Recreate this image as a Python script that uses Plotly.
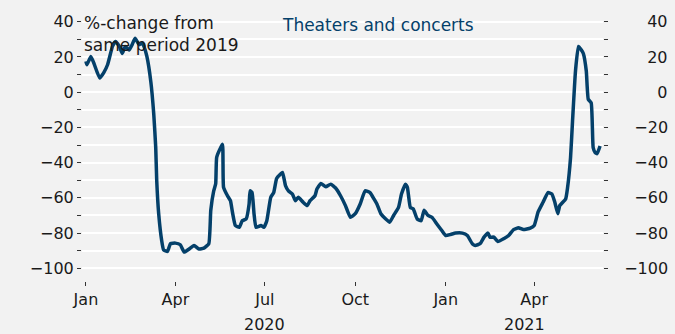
import plotly.graph_objects as go

dates = [
    "2020-01-01", "2020-01-02", "2020-01-06", "2020-01-09", "2020-01-15", "2020-01-19",
    "2020-01-23", "2020-01-28", "2020-01-31", "2020-02-04", "2020-02-07", "2020-02-10",
    "2020-02-14", "2020-02-17", "2020-02-20", "2020-02-24", "2020-02-27", "2020-02-29",
    "2020-03-03", "2020-03-07", "2020-03-10", "2020-03-12", "2020-03-13", "2020-03-15",
    "2020-03-18", "2020-03-20", "2020-03-24", "2020-03-27", "2020-04-01", "2020-04-06",
    "2020-04-10", "2020-04-15", "2020-04-20", "2020-04-25", "2020-04-30", "2020-05-05",
    "2020-05-07", "2020-05-10", "2020-05-12", "2020-05-13", "2020-05-17", "2020-05-19",
    "2020-05-20", "2020-05-24", "2020-05-27", "2020-05-29", "2020-06-01", "2020-06-05",
    "2020-06-08", "2020-06-12", "2020-06-15", "2020-06-16", "2020-06-18", "2020-06-20",
    "2020-06-22", "2020-06-27", "2020-06-30", "2020-07-03", "2020-07-07", "2020-07-10",
    "2020-07-13", "2020-07-17", "2020-07-19", "2020-07-22", "2020-07-25", "2020-07-29",
    "2020-08-01", "2020-08-04", "2020-08-09", "2020-08-13", "2020-08-16", "2020-08-21",
    "2020-08-23", "2020-08-27", "2020-09-01", "2020-09-06", "2020-09-11", "2020-09-16",
    "2020-09-21", "2020-09-26", "2020-10-01", "2020-10-06", "2020-10-11", "2020-10-16",
    "2020-10-20", "2020-10-23", "2020-10-27", "2020-11-01", "2020-11-05", "2020-11-09",
    "2020-11-14", "2020-11-17", "2020-11-21", "2020-11-23", "2020-11-26", "2020-11-29",
    "2020-12-03", "2020-12-07", "2020-12-10", "2020-12-14", "2020-12-18", "2020-12-23",
    "2020-12-28", "2021-01-01", "2021-01-06", "2021-01-11", "2021-01-18", "2021-01-23",
    "2021-01-28", "2021-01-31", "2021-02-05", "2021-02-09", "2021-02-13", "2021-02-15",
    "2021-02-19", "2021-02-23", "2021-03-01", "2021-03-06", "2021-03-11", "2021-03-16",
    "2021-03-21", "2021-03-28", "2021-04-01", "2021-04-05", "2021-04-10", "2021-04-15",
    "2021-04-19", "2021-04-22", "2021-04-25", "2021-04-27", "2021-05-03", "2021-05-05",
    "2021-05-08", "2021-05-10", "2021-05-13", "2021-05-16", "2021-05-19", "2021-05-21",
    "2021-05-24", "2021-05-26", "2021-05-29", "2021-05-31", "2021-06-02", "2021-06-04",
    "2021-06-07",
]
values = [
    17.5, 15.6, 20.3, 16.6, 8.0, 11.0,
    15.6, 26.0, 28.8, 26.0, 22.0, 26.0,
    24.0, 27.0, 30.7, 27.0, 28.0, 26.0,
    20.3, 6.0, -12.5, -31.5, -50.0, -69.0,
    -84.0, -89.5, -90.4, -86.0, -85.7, -86.6,
    -90.8, -89.0, -87.0, -89.0, -88.5, -86.0,
    -67.0, -56.0, -52.0, -37.0, -31.5, -29.6,
    -54.0, -58.8, -61.6, -68.0, -75.7, -76.7,
    -73.0, -72.0, -63.5, -56.0, -57.0, -69.0,
    -76.7, -75.7, -76.7, -73.0, -59.7, -57.0,
    -49.0, -46.5, -45.6, -53.0, -56.0, -57.8,
    -61.6, -59.7, -62.5, -64.4, -61.6, -58.8,
    -55.0, -51.8, -53.7, -52.2, -54.4, -58.8,
    -64.4, -71.0, -69.0, -63.5, -56.0, -57.0,
    -60.6, -63.5, -69.0, -72.0, -73.8, -70.0,
    -65.4, -57.8, -52.2, -54.0, -65.4, -66.3,
    -72.0, -73.0, -67.0, -70.0, -71.0, -74.8,
    -78.5, -81.4, -80.8, -80.0, -80.0, -81.4,
    -86.0, -87.0, -86.0, -82.3, -80.0, -82.3,
    -82.3, -84.8, -83.2, -81.4, -78.0, -77.0,
    -78.0, -77.2, -75.7, -68.0, -62.5, -57.0,
    -57.8, -62.5, -69.0, -64.4, -60.6, -54.0,
    -37.0, -16.4, 12.0, 26.0, 24.0, 22.0,
    12.0, -4.0, -6.0, -31.5, -34.3, -34.9,
    -30.5,
]

x_tickvals = ["2020-01-01", "2020-04-01", "2020-07-01", "2020-10-01", "2021-01-01", "2021-04-01"]
x_ticktext = ["Jan", "Apr", "Jul", "Oct", "Jan", "Apr"]
year_labels = ["2020", "2021"]
year_pos = ["2020-07-01", "2021-03-22"]

y_tickvals = list(range(-100, 41, 10))

MINUS = "\u2212"
FIG_SP = "\u2007"             # digit-width space
MINUS_SP = "\u2002\u2009\u200a"  # roughly the width of a minus sign


def left_label(v):
    if v % 20:
        return ""
    return str(v).replace("-", MINUS)


def right_label(v):
    if v % 20:
        return ""
    s = str(abs(v))
    pad = FIG_SP * (3 - len(s))
    if v >= 0:
        pad = MINUS_SP + pad
        return pad + s
    return pad + MINUS + s


y_ticktext = [left_label(v) for v in y_tickvals]
y2_ticktext = [right_label(v) for v in y_tickvals]

x_range = ["2019-12-28", "2021-06-10"]
y_range = [-107.2, 42.7]

LINE = "#04406a"
BG = "#f2f2f2"
TXT = "#1a1a1a"
FONT = "DejaVu Sans"
TICK_SIZE = 16
TEXT_SIZE = 17

fig = go.Figure()
fig.add_trace(go.Scatter(x=dates, y=values, mode="lines",
                         line=dict(color=LINE, width=3.5, shape="spline", smoothing=0.4),
                         hoverinfo="skip", showlegend=False))
fig.add_trace(go.Scatter(x=dates, y=values, mode="lines", yaxis="y2",
                         line=dict(color="rgba(0,0,0,0)", width=0),
                         hoverinfo="skip", showlegend=False))

fig.add_shape(type="line", xref="paper", x0=0, x1=1, yref="y", y0=0, y1=0,
              line=dict(color="#555555", width=1.2, dash="dot"), layer="below")

fig.add_annotation(text="%-change from<br>same period 2019", xref="paper", yref="paper",
                   x=0.0, y=0.935, xanchor="left", yanchor="middle", align="left",
                   showarrow=False, font=dict(family=FONT, size=TEXT_SIZE, color=TXT))
fig.add_annotation(text="Theaters and concerts", xref="paper", yref="paper",
                   x=0.568, y=0.97, xanchor="center", yanchor="middle",
                   showarrow=False, font=dict(family=FONT, size=TEXT_SIZE, color=LINE))
for lab, pos in zip(year_labels, year_pos):
    fig.add_annotation(text=lab, xref="x", yref="paper", x=pos, y=-0.165,
                       xanchor="center", yanchor="middle", showarrow=False,
                       font=dict(family=FONT, size=TICK_SIZE, color=TXT))

fig.update_layout(
    width=675, height=334,
    margin=dict(l=82, r=72, t=17, b=53, autoexpand=False),
    paper_bgcolor=BG, plot_bgcolor=BG,
    font=dict(family=FONT, size=TICK_SIZE, color=TXT),
    xaxis=dict(range=x_range, tickvals=x_tickvals, ticktext=x_ticktext,
               showgrid=False, zeroline=False, showline=False, automargin=False,
               ticks="outside", ticklen=4, tickcolor="#333333", tickwidth=1,
               tickfont=dict(family=FONT, size=TICK_SIZE, color=TXT)),
    yaxis=dict(range=y_range, tickvals=y_tickvals, ticktext=y_ticktext,
               showgrid=True, gridcolor="#ffffff", gridwidth=1.5, zeroline=False,
               showline=False, ticks="outside", ticklen=4, tickcolor="#333333",
               tickwidth=1, automargin=False,
               tickfont=dict(family=FONT, size=TICK_SIZE, color=TXT)),
    yaxis2=dict(range=y_range, tickvals=y_tickvals, ticktext=y2_ticktext,
                overlaying="y", side="right", showgrid=False, zeroline=False,
                showline=False, ticks="outside", ticklen=4, tickcolor="#333333",
                tickwidth=1, ticklabelstandoff=13, automargin=False,
                tickfont=dict(family=FONT, size=TICK_SIZE, color=TXT)),
)

fig.write_html("out.html", config={"displayModeBar": False})
